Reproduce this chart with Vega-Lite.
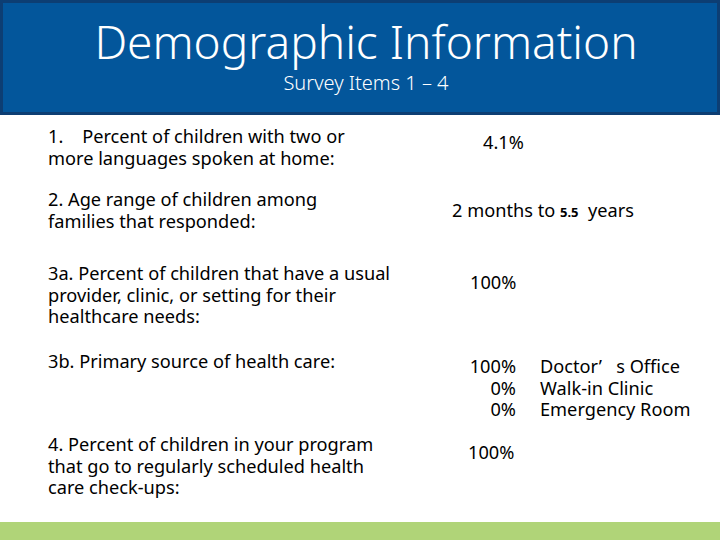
{
  "$schema": "https://vega.github.io/schema/vega-lite/v6.json",
  "width": 720,
  "height": 540,
  "autosize": {"type": "fit", "contains": "padding"},
  "padding": 0,
  "background": "white",
  "config": {"view": {"stroke": null}},
  "encoding": {
    "x": {"field": "x", "type": "quantitative", "scale": {"domain": [0, 720], "nice": false, "zero": false}, "axis": null},
    "y": {"field": "y", "type": "quantitative", "scale": {"domain": [0, 540], "nice": false, "zero": false, "reverse": true}, "axis": null}
  },
  "layer": [
    {
      "data": {"values": [{"part": "header", "x": 1.5, "x2": 718.5, "y": 1.5, "y2": 113.5}]},
      "mark": {"type": "rect", "fill": "#03569B", "stroke": "#0D3E73", "strokeWidth": 3},
      "encoding": {"x2": {"field": "x2"}, "y2": {"field": "y2"}}
    },
    {
      "data": {"values": [{"part": "footer", "x": 0, "x2": 720, "y": 522, "y2": 540}]},
      "mark": {"type": "rect", "fill": "#B0D478"},
      "encoding": {"x2": {"field": "x2"}, "y2": {"field": "y2"}}
    },
    {
      "data": {"values": [{"text": "Demographic Information", "x": 366, "y": 59}]},
      "mark": {"type": "text", "font": "Noto Sans", "fontSize": 46, "fontWeight": 300, "color": "white", "align": "center", "baseline": "alphabetic"},
      "encoding": {"text": {"field": "text"}}
    },
    {
      "data": {"values": [{"text": "Survey Items 1 – 4", "x": 366, "y": 90}]},
      "mark": {"type": "text", "font": "Noto Sans", "fontSize": 20, "fontWeight": 300, "color": "white", "align": "center", "baseline": "alphabetic"},
      "encoding": {"text": {"field": "text"}}
    },
    {
      "data": {"values": [
        {"text": "1.\u00a0\u00a0\u00a0 Percent of children with two or\nmore languages spoken at home:", "x": 48, "y": 143},
        {"text": "2. Age range of children among\nfamilies that responded:", "x": 48, "y": 206},
        {"text": "3a. Percent of children that have a usual\nprovider, clinic, or setting for their\nhealthcare needs:", "x": 48, "y": 280},
        {"text": "3b. Primary source of health care:", "x": 48, "y": 368},
        {"text": "4. Percent of children in your program\nthat go to regularly scheduled health\ncare check-ups:", "x": 48, "y": 451},
        {"text": "4.1%", "x": 483, "y": 149},
        {"text": "2 months to", "x": 452, "y": 217},
        {"text": "years", "x": 588, "y": 217},
        {"text": "100%", "x": 470, "y": 289},
        {"text": "100%", "x": 468, "y": 459},
        {"text": "Doctor’\u00a0\u00a0\u00a0s Office\nWalk-in Clinic\nEmergency Room", "x": 540, "y": 373}
      ]},
      "mark": {"type": "text", "font": "Noto Sans", "fontSize": 18.2, "lineHeight": 21.6, "lineBreak": "\n", "color": "black", "align": "left", "baseline": "alphabetic"},
      "encoding": {"text": {"field": "text"}}
    },
    {
      "data": {"values": [
        {"text": "100%\n0%\n0%", "x": 516, "y": 373}
      ]},
      "mark": {"type": "text", "font": "Noto Sans", "fontSize": 18.2, "lineHeight": 21.6, "lineBreak": "\n", "color": "black", "align": "right", "baseline": "alphabetic"},
      "encoding": {"text": {"field": "text"}}
    },
    {
      "data": {"values": [{"text": "5.5", "x": 560, "y": 217}]},
      "mark": {"type": "text", "font": "Noto Sans", "fontSize": 13, "fontWeight": "bold", "color": "black", "align": "left", "baseline": "alphabetic"},
      "encoding": {"text": {"field": "text"}}
    }
  ]
}
